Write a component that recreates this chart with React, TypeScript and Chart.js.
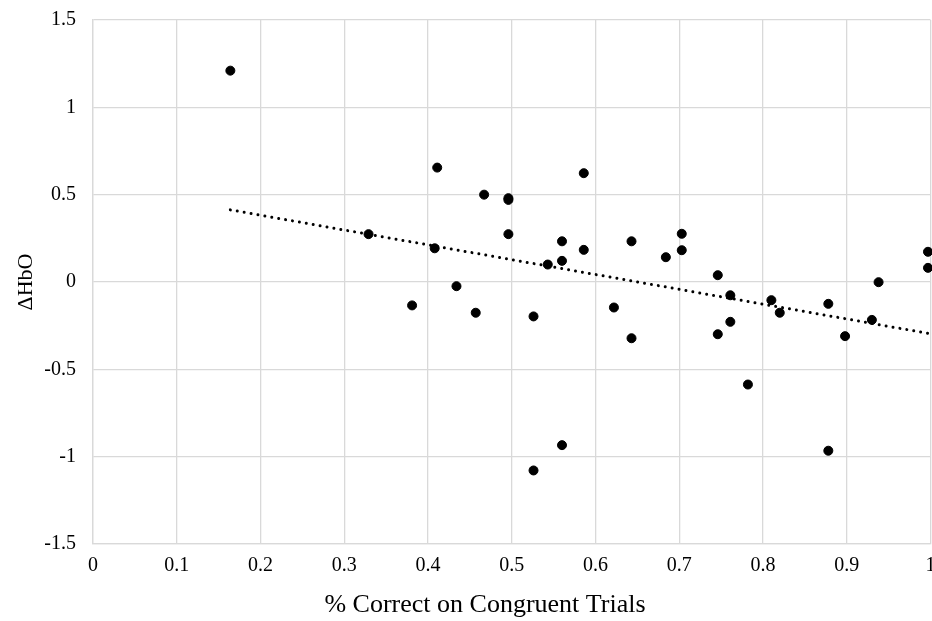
import React, { useEffect, useRef } from "react";
import { Chart, registerables } from "chart.js";

Chart.register(...registerables);

const xValues = [
  0.164, 0.329, 0.381, 0.408, 0.411, 0.434, 0.457, 0.467, 0.496, 0.496,
  0.496, 0.526, 0.526, 0.543, 0.56, 0.56, 0.56, 0.586, 0.586, 0.622,
  0.643, 0.643, 0.684, 0.703, 0.703, 0.746, 0.746, 0.761, 0.761, 0.782,
  0.81, 0.82, 0.878, 0.878, 0.898, 0.93, 0.938, 0.997, 0.997,
];
const yValues = [
  1.21, 0.274, -0.134, 0.193, 0.655, -0.024, -0.176, 0.5, 0.48, 0.47,
  0.274, -0.197, -1.079, 0.1, 0.233, 0.121, -0.934, 0.623, 0.184, -0.146,
  0.233, -0.322, 0.142, 0.276, 0.182, 0.039, -0.299, -0.076, -0.228, -0.587,
  -0.104, -0.176, -0.125, -0.966, -0.31, -0.217, -0.001, 0.173, 0.081,
];
const trendX = [0.164, 0.997];
const trendY = [0.413, -0.294];

const xTitle = "% Correct on Congruent Trials";
const yTitle = "ΔHbO";

const FONT = "'Liberation Serif', 'Times New Roman', serif";

export default function App() {
  const ref = useRef<HTMLCanvasElement | null>(null);

  useEffect(() => {
    const canvas = ref.current;
    if (!canvas) return;
    const points = xValues.map((x, i) => ({ x, y: yValues[i] }));
    const trend = trendX.map((x, i) => ({ x, y: trendY[i] }));

    const bgPlugin = {
      id: "bg",
      beforeDraw(chart: any) {
        const { ctx } = chart;
        ctx.save();
        ctx.fillStyle = "#ffffff";
        ctx.fillRect(0, 0, chart.width, chart.height);
        ctx.restore();
      },
    };

    // x-axis title, placed slightly left of the plot centre as in the reference
    const xTitlePlugin = {
      id: "xTitle",
      afterDraw(chart: any) {
        const { ctx } = chart;
        ctx.save();
        ctx.font = `26px ${FONT}`;
        ctx.fillStyle = "#000000";
        ctx.textAlign = "center";
        ctx.textBaseline = "alphabetic";
        ctx.fillText(xTitle, 485, 612);
        ctx.restore();
      },
    };

    const chart = new Chart(canvas, {
      type: "scatter",
      data: {
        datasets: [
          {
            type: "line",
            data: trend,
            borderColor: "#000000",
            borderWidth: 3,
            borderDash: [0.01, 7],
            borderCapStyle: "round",
            pointRadius: 0,
            fill: false,
            tension: 0,
          } as any,
          {
            data: points,
            backgroundColor: "#000000",
            borderColor: "#000000",
            pointRadius: 4.5,
            pointHoverRadius: 4.5,
            clip: false,
          } as any,
        ],
      },
      options: {
        responsive: false,
        animation: false,
        layout: { autoPadding: false, padding: { top: 20, right: 1.5, bottom: 0, left: 0 } },
        plugins: {
          legend: { display: false },
          tooltip: { enabled: false },
        },
        scales: {
          x: {
            type: "linear",
            min: 0,
            max: 1,
            ticks: {
              stepSize: 0.1,
              padding: 10,
              color: "#000000",
              font: { family: FONT, size: 20 },
              callback: (v: any) => String(Math.round(Number(v) * 10) / 10),
            },
            grid: { color: "#d9d9d9", lineWidth: 1.3, drawTicks: false },
            border: { color: "#d9d9d9", width: 1.3 },
            title: { display: false },
            afterFit: (scale: any) => {
              scale.height = 77;
              scale.paddingLeft = 0;
              scale.paddingRight = 0;
            },
          },
          y: {
            type: "linear",
            min: -1.5,
            max: 1.5,
            ticks: {
              stepSize: 0.5,
              padding: 17,
              color: "#000000",
              font: { family: FONT, size: 20 },
              callback: (v: any) => String(Math.round(Number(v) * 10) / 10),
            },
            grid: { color: "#d9d9d9", lineWidth: 1.3, drawTicks: false },
            border: { color: "#d9d9d9", width: 1.3 },
            title: {
              display: true,
              text: yTitle,
              color: "#000000",
              font: { family: FONT, size: 22 },
              padding: { top: 13, bottom: 4 },
            },
            afterFit: (scale: any) => {
              scale.width = 93;
              scale.paddingTop = 0;
              scale.paddingBottom = 0;
            },
          },
        },
      },
      plugins: [bgPlugin, xTitlePlugin],
    } as any);

    return () => chart.destroy();
  }, []);

  return (
    <div style={{ position: "fixed", left: 0, top: 0, width: 932, height: 621, background: "#fff" }}>
      <canvas ref={ref} width={932} height={621} style={{ display: "block" }} />
    </div>
  );
}
